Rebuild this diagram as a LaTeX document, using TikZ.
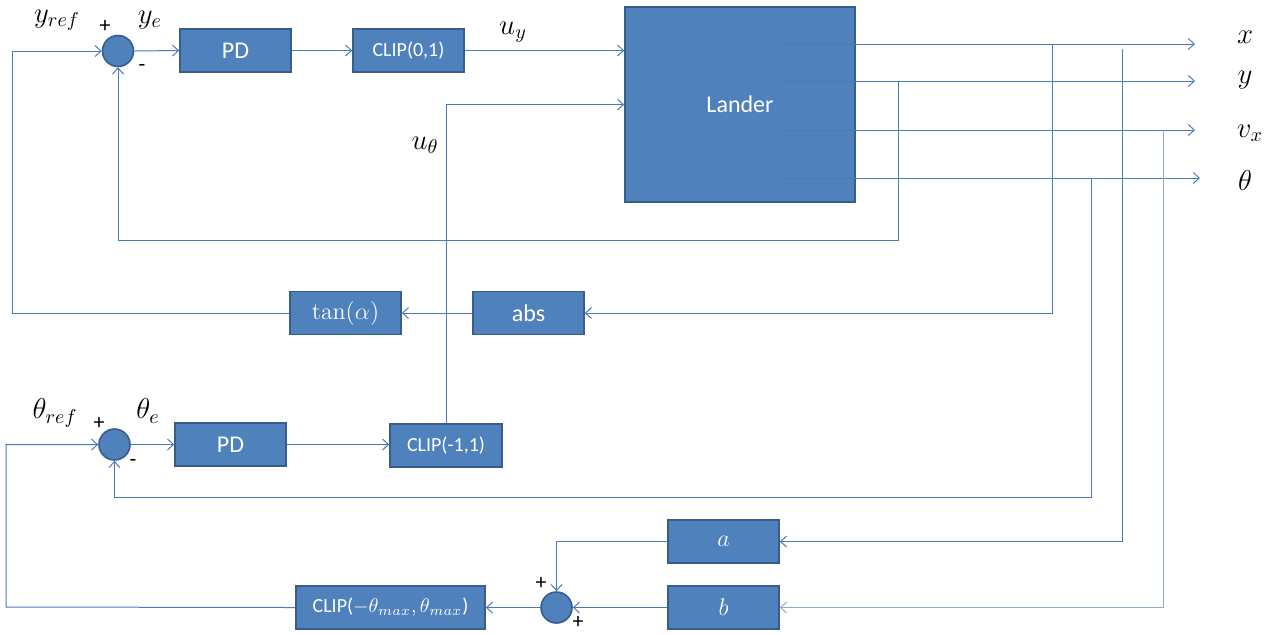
\documentclass[tikz,border=0pt]{standalone}
\usepackage[no-math]{fontspec}
\setmainfont{Carlito}
\usetikzlibrary{arrows.meta}
\definecolor{blkfill}{HTML}{4F81BD}
\definecolor{blkedge}{HTML}{385D8A}
\definecolor{wire}{HTML}{4A7BB8}
\definecolor{wirelight}{HTML}{8FAAD2}
\tikzset{
  blk/.style={draw=blkedge, fill=blkfill, line width=0.8pt, text=white,
    minimum width=55.5pt, minimum height=21.5pt, inner sep=0pt,
    font=\fontsize{12}{14}\selectfont},
  clipblk/.style={blk, font=\fontsize{10}{12}\selectfont},
  sumpt/.style={circle, draw=blkedge, fill=blkfill, line width=0.8pt,
    minimum size=15.5pt, inner sep=0pt},
  wireln/.style={draw=wire, line width=0.5pt},
  arr/.style={wireln, -{Straight Barb[length=3pt, width=5.5pt, line width=0.5pt]}},
  lbl/.style={inner sep=0pt, font=\fontsize{14}{16}\selectfont},
  sgn/.style={inner sep=0pt, font=\fontsize{11}{13}\selectfont}
}
\begin{document}
\begin{tikzpicture}[x=0.5pt, y=-0.5pt]
\useasboundingbox (0,0) rectangle (1288,634);

% blocks of the height loop
\node[sumpt] (s1) at (118,51) {};
\node[blk] (pd1) at (235.5,50.5) {PD};
\node[clipblk] (clip1) at (408.5,50.5) {CLIP(0,1)};
\node[blk, minimum width=115pt, minimum height=97.5pt] (lander) at (740,104.5) {Lander};
\node[blk, font=\fontsize{13}{15}\selectfont] (tan) at (345.5,313) {$\tan(\alpha)$};
\node[blk] (abs) at (528.5,313) {abs};

% blocks of the attitude loop
\node[sumpt] (s2) at (114.5,444.5) {};
\node[blk] (pd2) at (230.5,444.5) {PD};
\node[clipblk, minimum width=56pt] (clip2) at (446,445.5) {CLIP(-1,1)};
\node[blk, font=\fontsize{13}{15}\selectfont] (ablk) at (723.5,541.5) {$a$};
\node[blk, font=\fontsize{13}{15}\selectfont] (bblk) at (723.5,607.5) {$b$};
\node[sumpt] (s3) at (556.5,607.5) {};
\node[clipblk, minimum width=94.5pt] (clip3) at (390.5,607.5) {CLIP($-\theta_{max},\theta_{max}$)};

% output taps
\coordinate (ox1) at (785,44);  \coordinate (ox2) at (1195,44);
\coordinate (oy1) at (785,81);  \coordinate (oy2) at (1195,81);
\coordinate (ov1) at (785,130); \coordinate (ov2) at (1195,130);
\coordinate (ot1) at (785,178); \coordinate (ot2) at (1200,178);
\coordinate (ty) at (898,81);   \coordinate (ty2) at (898,240);
\coordinate (tx) at (1052,44);
\coordinate (tt) at (1091,178); \coordinate (tt2) at (1091,497);
\coordinate (ta) at (1122,49);
\coordinate (tv) at (1163,130);
\coordinate (ylft) at (12,313);
\coordinate (tlft) at (6,607);

% forward path, height loop
\draw[arr] (s1.east) -- (pd1.west);
\draw[arr] (pd1.east) -- (clip1.west);
\draw[arr] (clip1.east) -- (clip1.east -| lander.west);
\draw[arr] (clip2.north) |- (lander.west);

% lander outputs
\draw[arr] (ox1) -- (ox2);
\draw[arr] (oy1) -- (oy2);
\draw[arr] (ov1) -- (ov2);
\draw[arr] (ot1) -- (ot2);

% height feedback
\draw[arr] (ty) -- (ty2) -| (s1.south);
\draw[arr] (tx) |- (abs.east);
\draw[arr] (abs.west) -- (tan.east);
\draw[arr] (tan.west) -- (ylft) |- (s1.west);

% attitude loop
\draw[arr] (tt) -- (tt2) -| (s2.south);
\draw[arr] (s2.east) -- (pd2.west);
\draw[arr] (pd2.east) -- (pd2.east -| clip2.west);
\draw[arr] (ta) |- (ablk.east);
\draw[arr, draw=wirelight] (tv) |- (bblk.east);
\draw[arr] (ablk.west) -| (s3.north);
\draw[arr] (bblk.west) -- (s3.east);
\draw[arr] (s3.west) -- (clip3.east);
\draw[arr] (clip3.west) -- (tlft) |- (s2.west);

% signal labels
\node[lbl] (lyref) at (57,20) {$y_{ref}$};
\node[sgn] (p1) at (105,26) {+};
\node[lbl] (lye) at (150,20) {$y_e$};
\node[sgn] (m1) at (142,68) {-};
\node[lbl] (luy) at (513,32) {$u_y$};
\node[lbl] (luth) at (425,145) {$u_\theta$};
\node[lbl] (lx) at (1245,37) {$x$};
\node[lbl] (ly) at (1245,80) {$y$};
\node[lbl] (lvx) at (1250,133) {$v_x$};
\node[lbl] (lth) at (1245,180) {$\theta$};
\node[lbl] (lthref) at (55,413) {$\theta_{ref}$};
\node[sgn] (p2) at (99,423) {+};
\node[lbl] (lthe) at (148,411) {$\theta_e$};
\node[sgn] (m2) at (133,463) {-};
\node[sgn] (p3) at (541,583) {+};
\node[sgn] (p4) at (578,622) {+};
\end{tikzpicture}
\end{document}
